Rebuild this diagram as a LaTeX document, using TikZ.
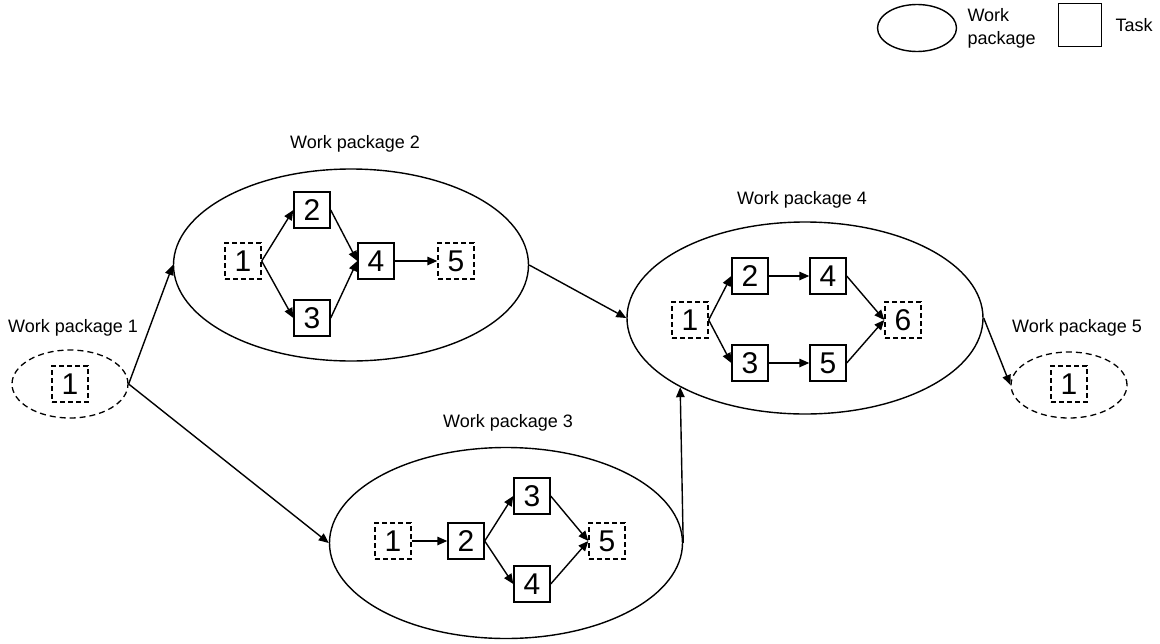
\documentclass[tikz,border=0pt]{standalone}
\usepackage{fontspec}
\setmainfont{Liberation Sans}
\usetikzlibrary{shapes.geometric,arrows.meta}

\tikzset{
  wp/.style={draw, ellipse, line width=1.4pt, inner sep=0pt},
  wpopen/.style={wp, dash pattern=on 6pt off 4pt, line width=1.3pt},
  task/.style={draw, rectangle, minimum size=36pt, inner sep=0pt, line width=1.4pt,
    font=\fontsize{30}{30}\selectfont},
  opentask/.style={task, dash pattern=on 5pt off 3pt},
  wplabel/.style={font=\fontsize{18}{23}\selectfont},
  link/.style={line width=1.4pt, -{Triangle[length=10pt,width=8.5pt]}},
}

\begin{document}
\begin{tikzpicture}[x=1pt, y=-1pt]
\useasboundingbox (0,0) rectangle (1160,643);

% legend
\node[wp, minimum width=79pt, minimum height=47pt] (keywp) at (917,28) {};
\node[wplabel, anchor=west, align=left] (keywptext) at (964,28) {Work\\package};
\node[task, minimum size=43pt] (keytask) at (1080,25) {};
\node[wplabel, anchor=west] (keytasktext) at (1112,25) {Task};

% work package 1
\node[wpopen, minimum width=116pt, minimum height=68pt] (wp1) at (70,384) {};
\node[wplabel] (wp1l) at (73,328) {Work package 1};
\node[opentask] (a1) at (70,384) {1};

% work package 2
\node[wp, minimum width=355pt, minimum height=192pt] (wp2) at (351,265) {};
\node[wplabel] (wp2l) at (355,144) {Work package 2};
\node[opentask] (b1) at (243,261) {1};
\node[task] (b2) at (312,210) {2};
\node[task] (b3) at (312,318) {3};
\node[task] (b4) at (376,261) {4};
\node[opentask] (b5) at (456,261) {5};
\draw[link] (b1.east) -- (b2.west);
\draw[link] (b1.east) -- (b3.west);
\draw[link] (b2.east) -- (b4.west);
\draw[link] (b3.east) -- (b4.west);
\draw[link] (b4.east) -- (b5.west);

% work package 3
\node[wp, minimum width=353pt, minimum height=191pt] (wp3) at (506,543) {};
\node[wplabel] (wp3l) at (508,423) {Work package 3};
\node[opentask] (c1) at (393,541) {1};
\node[task] (c2) at (466,541) {2};
\node[task] (c3) at (532,496) {3};
\node[task] (c4) at (532,584) {4};
\node[opentask] (c5) at (607,541) {5};
\draw[link] (c1.east) -- (c2.west);
\draw[link] (c2.east) -- (c3.west);
\draw[link] (c2.east) -- (c4.west);
\draw[link] (c3.east) -- (c5.west);
\draw[link] (c4.east) -- (c5.west);

% work package 4
\node[wp, minimum width=356pt, minimum height=192pt] (wp4) at (805,318) {};
\node[wplabel] (wp4l) at (802,200) {Work package 4};
\node[opentask] (d1) at (690,320) {1};
\node[task] (d2) at (750,276) {2};
\node[task] (d3) at (750,363) {3};
\node[task] (d4) at (828,276) {4};
\node[task] (d5) at (828,363) {5};
\node[opentask] (d6) at (903,320) {6};
\draw[link] (d1.east) -- (d2.west);
\draw[link] (d1.east) -- (d3.west);
\draw[link] (d2.east) -- (d4.west);
\draw[link] (d3.east) -- (d5.west);
\draw[link] (d4.east) -- (d6.west);
\draw[link] (d5.east) -- (d6.west);

% work package 5
\node[wpopen, minimum width=116pt, minimum height=66pt] (wp5) at (1069,385) {};
\node[wplabel] (wp5l) at (1077,328) {Work package 5};
\node[opentask] (e1) at (1069,384) {1};

% dependencies between work packages
\draw[link] (wp1.east) -- (wp2.west);
\draw[link] (wp1.east) -- (wp3.west);
\draw[link] (wp2.east) -- (wp4.west);
\draw[link] (wp3.east) -- (wp4.209);
\draw[link] (wp4.east) -- (wp5.west);
\end{tikzpicture}
\end{document}
